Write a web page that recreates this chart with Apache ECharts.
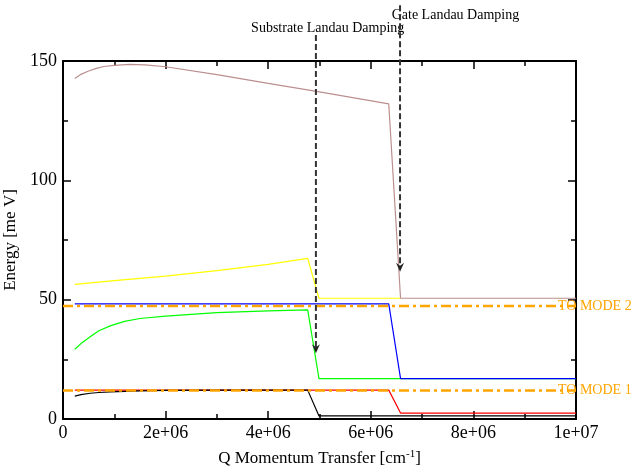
<!DOCTYPE html>
<html>
<head>
<meta charset="utf-8">
<script src="https://cdn.jsdelivr.net/npm/echarts@6/dist/echarts.min.js"></script>
<style>
  html, body { margin: 0; padding: 0; background: #fff; }
  #chart { width: 633px; height: 472px; }
</style>
</head>
<body>
<div id="chart"></div>
<script>
// data
const xTickLabels = ['0', '2e+06', '4e+06', '6e+06', '8e+06', '1e+07'];

const brownX = [2.3e5, 3.5e5, 5e5, 6.5e5, 8e5, 1e6, 1.3e6, 1.6e6, 2e6, 3e6, 4e6, 5e6, 6.35e6, 6.58e6, 1e7];
const brownY = [142.7, 144.4, 145.8, 146.9, 147.7, 148.2, 148.6, 148.4, 147.6, 144.3, 140.6, 137.1, 132.0, 50.6, 50.6];

const yellowX = [2.3e5, 1e6, 2e6, 3e6, 4e6, 4.77e6, 4.99e6, 6.58e6];
const yellowY = [56.4, 58.0, 59.9, 62.2, 64.8, 67.3, 50.6, 50.6];

const blueX = [2.3e5, 6.35e6, 6.58e6, 1e7];
const blueY = [48.2, 48.2, 16.9, 16.9];

const greenX = [2.3e5, 3.5e5, 5.3e5, 7e5, 9.2e5, 1.2e6, 1.5e6, 2e6, 3e6, 4e6, 4.77e6, 4.99e6, 1e7];
const greenY = [29.2, 31.6, 34.5, 37.0, 39.0, 40.9, 42.1, 43.1, 44.6, 45.3, 45.7, 16.9, 16.9];

const redX = [2.3e5, 6.35e6, 6.58e6, 1e7];
const redY = [12.1, 12.1, 2.5, 2.5];

const blackX = [2.3e5, 3.5e5, 5.3e5, 7e5, 9.2e5, 1.5e6, 2e6, 3e6, 4.77e6, 4.99e6, 1e7];
const blackY = [9.6, 10.2, 10.8, 11.1, 11.4, 11.8, 12.0, 12.1, 12.1, 1.3, 1.3];

const modeNames = ['TO MODE 2', 'TO MODE 1'];
const modeX = [0, 1e7];
const modeY = [47.3, 11.9];

// annotation arrows (data units)
const arrowNames = ['Substrate Landau Damping', 'Gate Landau Damping'];
const arrowX = [4.93e6, 6.57e6];
const arrowTop = [160.9, 173.4];
const arrowTip = [27.5, 61.7];
const arrowTextX = [5.16e6, 7.65e6];
const arrowTextY = [163.8, 169.3];

const font = 'Liberation Serif';
const pairs = (xs, ys) => xs.map((x, i) => [x, ys[i]]);

function lineSeries(name, xs, ys, color) {
  return {
    name: name,
    type: 'line',
    data: pairs(xs, ys),
    showSymbol: false,
    symbol: 'none',
    lineStyle: { color: color, width: 1.2 },
    silent: true,
    z: 3
  };
}

function modeSeries(i) {
  return {
    name: modeNames[i],
    type: 'line',
    data: modeX.map(x => [x, modeY[i]]),
    showSymbol: false,
    symbol: 'none',
    lineStyle: { color: '#ffa500', width: 2.5, type: [10, 4, 3, 4] },
    endLabel: {
      show: true,
      formatter: modeNames[i],
      color: '#ffa500',
      fontFamily: font,
      fontSize: 14,
      offset: [-26, 0]
    },
    silent: true,
    z: 4
  };
}

const tickStyle = { color: '#000', width: 1.5 };
const frameLine = { show: true, onZero: false, lineStyle: { color: '#000', width: 2 } };

const myChart = echarts.init(document.getElementById('chart'));

const option = {
  animation: false,
  backgroundColor: '#fff',
  textStyle: { fontFamily: font },
  grid: { left: 63, right: 57, top: 61, bottom: 53, outerBoundsMode: 'none', containLabel: false },
  xAxis: [
    {
      type: 'value',
      min: 0,
      max: 1e7,
      interval: 2e6,
      name: 'Q Momentum Transfer [cm{sup|-1}]',
      nameLocation: 'middle',
      nameGap: 30,
      nameTextStyle: {
        fontFamily: font,
        fontSize: 17,
        color: '#000',
        rich: { sup: { fontFamily: font, fontSize: 11, color: '#000', verticalAlign: 'top', padding: [0, 0, 8, 0] } }
      },
      axisLine: frameLine,
      axisTick: { inside: true, length: 8, lineStyle: tickStyle },
      minorTick: { show: true, splitNumber: 2, length: 5, lineStyle: tickStyle },
      axisLabel: {
        fontFamily: font,
        fontSize: 18,
        color: '#000',
        margin: 5,
        formatter: v => xTickLabels[Math.round(v / 2e6)]
      },
      splitLine: { show: false }
    },
    {
      type: 'value',
      position: 'top',
      min: 0,
      max: 1e7,
      interval: 2e6,
      axisLine: frameLine,
      axisTick: { inside: true, length: 8, lineStyle: tickStyle },
      minorTick: { show: true, splitNumber: 2, length: 5, lineStyle: tickStyle },
      axisLabel: { show: false },
      splitLine: { show: false }
    }
  ],
  yAxis: [
    {
      type: 'value',
      min: 0,
      max: 150,
      interval: 50,
      name: 'Energy [me V]',
      nameLocation: 'middle',
      nameGap: 38,
      nameTextStyle: { fontFamily: font, fontSize: 17, color: '#000' },
      axisLine: frameLine,
      axisTick: { show: true, inside: true, length: 8, lineStyle: tickStyle },
      minorTick: { show: true, splitNumber: 2, length: 5, lineStyle: tickStyle },
      axisLabel: { fontFamily: font, fontSize: 18, color: '#000', margin: 6 },
      splitLine: { show: false }
    },
    {
      type: 'value',
      position: 'right',
      min: 0,
      max: 150,
      interval: 50,
      axisLine: frameLine,
      axisTick: { show: true, inside: true, length: 8, lineStyle: tickStyle },
      minorTick: { show: true, splitNumber: 2, length: 5, lineStyle: tickStyle },
      axisLabel: { show: false },
      splitLine: { show: false }
    }
  ],
  series: [
    lineSeries('yellow', yellowX, yellowY, '#ffff00'),
    lineSeries('brown', brownX, brownY, '#bc8f8f'),
    lineSeries('green', greenX, greenY, '#00ff00'),
    lineSeries('blue', blueX, blueY, '#0000ff'),
    lineSeries('red', redX, redY, '#ff0000'),
    lineSeries('black', blackX, blackY, '#000000'),
    modeSeries(0),
    modeSeries(1)
  ]
};

myChart.setOption(option);

// arrows and their labels, placed through the axes
const graphics = [];
arrowNames.forEach((name, i) => {
  const top = myChart.convertToPixel({ gridIndex: 0 }, [arrowX[i], arrowTop[i]]);
  const tip = myChart.convertToPixel({ gridIndex: 0 }, [arrowX[i], arrowTip[i]]);
  const txt = myChart.convertToPixel({ gridIndex: 0 }, [arrowTextX[i], arrowTextY[i]]);
  graphics.push({
    type: 'text',
    x: txt[0],
    y: txt[1],
    z: 10,
    style: {
      text: name,
      fill: '#000',
      font: '14px "Liberation Serif"',
      align: 'center',
      verticalAlign: 'middle'
    }
  });
  graphics.push({
    type: 'line',
    z: 11,
    shape: { x1: top[0], y1: top[1], x2: tip[0], y2: tip[1] - 6 },
    style: { stroke: '#333', lineWidth: 2, lineDash: [6, 3] }
  });
  graphics.push({
    type: 'polygon',
    z: 11,
    shape: { points: [[tip[0] - 4, tip[1] - 9], [tip[0], tip[1] - 6], [tip[0] + 4, tip[1] - 9], [tip[0], tip[1]]] },
    style: { fill: '#222' }
  });
});
myChart.setOption({ graphic: graphics });
</script>
</body>
</html>
